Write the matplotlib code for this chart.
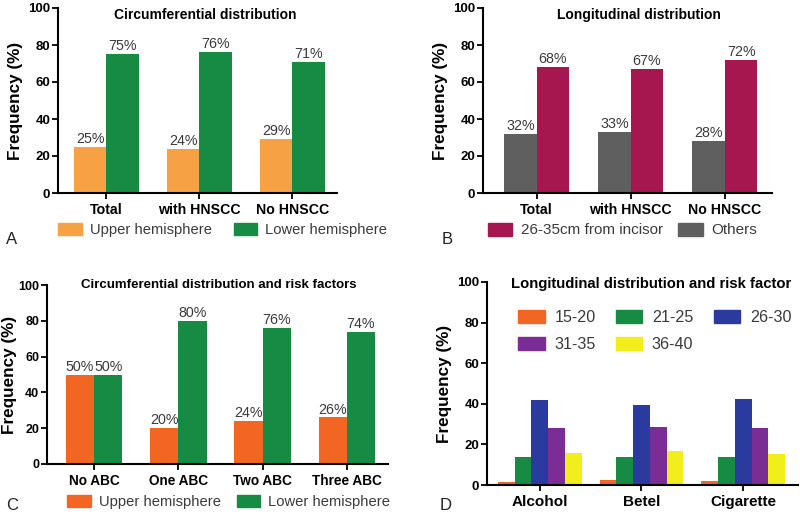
import matplotlib
matplotlib.use("Agg")
import matplotlib.pyplot as plt
import numpy as np
from matplotlib.patches import Patch

plt.rcParams['font.family'] = ['Liberation Sans', 'DejaVu Sans']

# --- data ---
groups_ab = ["Total", "with HNSCC", "No HNSCC"]
upper_a = [25, 24, 29]
lower_a = [75, 76, 71]

incisor_b = [68, 67, 72]
others_b = [32, 33, 28]

groups_c = ["No ABC", "One ABC", "Two ABC", "Three ABC"]
upper_c = [50, 20, 24, 26]
lower_c = [50, 80, 76, 74]

groups_d = ["Alcohol", "Betel", "Cigarette"]
ranges_d = ["15-20", "21-25", "26-30", "31-35", "36-40"]
values_d = {
    "15-20": [1.6, 2.5, 2.0],
    "21-25": [14, 14, 14],
    "26-30": [41.8, 39.3, 42.3],
    "31-35": [27.9, 28.7, 27.9],
    "36-40": [15.6, 16.9, 15.2],
}

ORANGE_LIGHT = "#F7A145"
ORANGE = "#F26522"
GREEN = "#178A44"
CRIMSON = "#A6174F"
GRAY = "#5F5F5F"
BLUE = "#2B3A9E"
PURPLE = "#7B2D96"
YELLOW = "#F2EE1C"
TXT = "#3a3a3a"

W, H = 800, 514
fig = plt.figure(figsize=(8, 5.14), dpi=100)


def px_axes(left, right, top, bottom):
    return fig.add_axes([left / W, 1 - bottom / H, (right - left) / W, (bottom - top) / H])


def style(ax, cats, xlim, title, title_xy, title_size, cat_size, ypad=4, ytick_size=9.5):
    ax.set_ylim(0, 100)
    ax.set_xlim(*xlim)
    ax.set_yticks([0, 20, 40, 60, 80, 100])
    ax.set_xticks(np.arange(len(cats)))
    ax.set_xticklabels(cats, fontsize=cat_size, fontweight="bold")
    for lab in ax.get_yticklabels():
        lab.set_fontweight("bold")
        lab.set_fontsize(ytick_size)
    ax.tick_params(axis="both", width=1.3, length=4, pad=1.5)
    ax.tick_params(axis="x", pad=3)
    for s in ["top", "right"]:
        ax.spines[s].set_visible(False)
    for s in ["left", "bottom"]:
        ax.spines[s].set_linewidth(1.5)
    ax.set_ylabel("Frequency (%)", fontsize=12.3, fontweight="bold", labelpad=ypad)
    ax.text(title_xy[0], title_xy[1], title, transform=ax.transAxes,
            ha="center", va="center", fontsize=title_size, fontweight="bold")


def pair_bars(ax, left_vals, right_vals, c1, c2, width):
    x = np.arange(len(left_vals))
    b1 = ax.bar(x - width / 2, left_vals, width, color=c1)
    b2 = ax.bar(x + width / 2, right_vals, width, color=c2)
    for bars in (b1, b2):
        for b in bars:
            ax.text(b.get_x() + b.get_width() / 2, b.get_height() + 0.5,
                    f"{b.get_height():.0f}%", ha="center", va="bottom",
                    fontsize=10.3, color=TXT)


def bottom_legend(handles, x_px, y_px, colsp, size):
    fig.legend(handles=handles, loc="center left",
               bbox_to_anchor=(x_px / W, 1 - y_px / H), ncol=2, frameon=False,
               fontsize=size, handlelength=1.6, handleheight=0.95,
               handletextpad=0.55, columnspacing=colsp, borderpad=0,
               borderaxespad=0, labelcolor=TXT)


# --- A ---
axA = px_axes(58, 337, 8, 193)
pair_bars(axA, upper_a, lower_a, ORANGE_LIGHT, GREEN, 0.35)
style(axA, groups_ab, (-0.52, 2.48), "Circumferential distribution",
      (0.527, 0.962), 10, 10.2)
bottom_legend([Patch(color=ORANGE_LIGHT, label="Upper hemisphere"),
               Patch(color=GREEN, label="Lower hemisphere")], 58, 230, 1.5, 10.6)
fig.text(6 / W, 1 - 240 / H, "A", fontsize=12, va="center", color="#222")

# --- B ---
axB = px_axes(483, 772, 8, 193)
pair_bars(axB, others_b, incisor_b, GRAY, CRIMSON, 0.345)
style(axB, groups_ab, (-0.57, 2.5), "Longitudinal distribution",
      (0.54, 0.962), 10, 10.2)
bottom_legend([Patch(color=CRIMSON, label="26-35cm from incisor"),
               Patch(color=GRAY, label="Others")], 488, 230, 1.0, 11)
fig.text(442 / W, 1 - 240 / H, "B", fontsize=12, va="center", color="#222")

# --- C ---
axC = px_axes(47, 388, 285, 464)
pair_bars(axC, upper_c, lower_c, ORANGE, GREEN, 0.335)
style(axC, groups_c, (-0.56, 3.49), "Circumferential distribution and risk factors",
      (0.504, 1.0), 9.5, 9.8, ypad=1, ytick_size=9)
bottom_legend([Patch(color=ORANGE, label="Upper hemisphere"),
               Patch(color=GREEN, label="Lower hemisphere")], 67, 502, 1.1, 10.6)
fig.text(6 / W, 1 - 505 / H, "C", fontsize=12, va="center", color="#222")

# --- D ---
axD = px_axes(487, 798, 282, 485)
xd = np.arange(len(groups_d))
wd = 0.165
colors_d = [ORANGE, GREEN, BLUE, PURPLE, YELLOW]
handles_d = []
for i, (r, c) in enumerate(zip(ranges_d, colors_d)):
    axD.bar(xd + (i - 2) * wd, values_d[r], wd, color=c)
    handles_d.append(Patch(color=c, label=r))
style(axD, groups_d, (-0.52, 2.54), "Longitudinal distribution and risk factor",
      (0.527, 0.99), 10.7, 11)
order = [0, 3, 1, 4, 2]
axD.legend(handles=[handles_d[i] for i in order], loc="upper left",
           bbox_to_anchor=((518 - 487) / 311, 1 - (310 - 282) / 203), ncol=3,
           frameon=False, fontsize=11.6, handlelength=1.65, handleheight=0.8,
           handletextpad=0.6, columnspacing=1.25, borderpad=0, borderaxespad=0,
           labelspacing=0.75, labelcolor=TXT)
fig.text(440 / W, 1 - 506 / H, "D", fontsize=12, va="center", color="#222")

fig.savefig("out.png", dpi=100)
